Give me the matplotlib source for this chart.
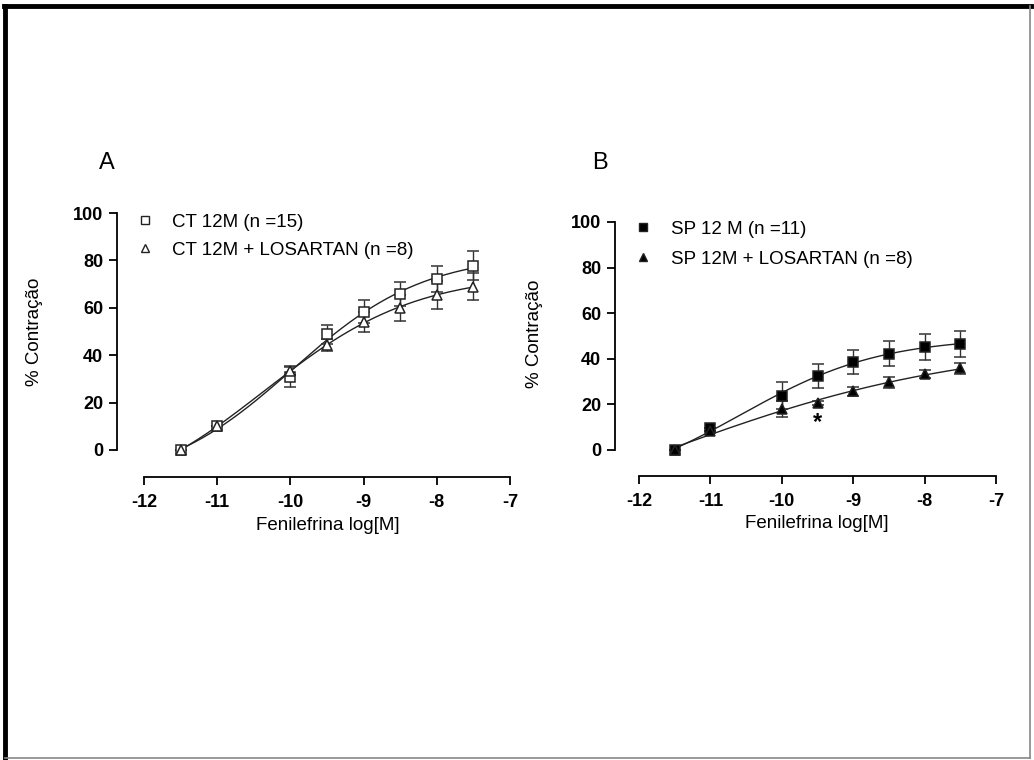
import matplotlib.pyplot as plt
from matplotlib.lines import Line2D
import numpy as np

plt.rcParams['font.family'] = ['Liberation Sans', 'DejaVu Sans']

# log[M] concentrations
x_conc = [-11.5, -11, -10, -9.5, -9, -8.5, -8, -7.5]

# Panel A
ct_mean = [0, 10, 30.7, 48.8, 58.4, 65.8, 72.0, 77.8]
ct_err = [0, 0, 4.3, 4.0, 5.0, 5.0, 5.5, 6.0]
ctl_mean = [0, 10, 33.5, 44.3, 54.0, 60.0, 65.4, 68.9]
ctl_err = [0, 0, 2.0, 2.5, 4.3, 5.5, 6.0, 5.7]

# Panel B
sp_mean = [0, 9.5, 23.8, 32.5, 38.7, 42.3, 45.0, 46.3]
sp_err = [0, 0, 5.9, 5.2, 5.2, 5.4, 5.7, 5.7]
spl_mean = [0, 8.5, 17.8, 20.5, 25.7, 29.7, 33.2, 35.8]
spl_err = [0, 0, 3.5, 0.8, 2.0, 2.5, 1.8, 2.5]

labels_a = ['CT 12M (n =15)', 'CT 12M + LOSARTAN (n =8)']
labels_b = ['SP 12 M (n =11)', 'SP 12M + LOSARTAN (n =8)']
xticks = [-12, -11, -10, -9, -8, -7]
yticks = [0, 20, 40, 60, 80, 100]


def fit_curve(x, y):
    # 4-parameter logistic, grid search on EC50 / slope, linear LSQ for bottom/top
    x = np.asarray(x, float)
    y = np.asarray(y, float)
    best = None
    for ec in np.linspace(-12, -6, 241):
        for h in np.linspace(0.2, 2.5, 116):
            f = 1.0 / (1.0 + 10 ** ((ec - x) * h))
            A = np.column_stack([1 - f, f])
            coef, *_ = np.linalg.lstsq(A, y, rcond=None)
            res = np.sum((A @ coef - y) ** 2)
            if best is None or res < best[0]:
                best = (res, ec, h, coef)
    _, ec, h, (bot, top) = best
    xs = np.linspace(x.min(), x.max(), 200)
    f = 1.0 / (1.0 + 10 ** ((ec - xs) * h))
    return xs, bot + (top - bot) * f


def panel(ax, series, labels, out_l, out_b, leg_anchor, ylab_xy, xlab_xy, lspace):
    for (m, e, mk, fc, ms) in series:
        xs, ys = fit_curve(x_conc, m)
        ax.plot(xs, ys, color='#222222', lw=1.0, clip_on=False)
        ax.errorbar(x_conc, m, yerr=e, fmt=mk, ms=ms,
                    mfc=fc, mec='#222222', mew=1.1, ecolor='#333333',
                    elinewidth=1.0, capsize=4, capthick=1.0, clip_on=False,
                    zorder=3)
    for s in ['top', 'right']:
        ax.spines[s].set_visible(False)
    # spine positioning resets the ticks, so do it first
    ax.spines['left'].set_position(('outward', out_l))
    ax.spines['bottom'].set_position(('outward', out_b))
    ax.spines['left'].set_linewidth(1.3)
    ax.spines['bottom'].set_linewidth(1.3)
    ax.set_xlim(-12, -7)
    ax.set_ylim(0, 100)
    ax.set_xticks(xticks)
    ax.set_yticks(yticks)
    ax.set_xticklabels([str(t) for t in xticks], fontweight='bold', fontsize=13)
    ax.set_yticklabels([str(t) for t in yticks], fontweight='bold', fontsize=13)
    ax.tick_params(direction='out', length=6, width=1.3)
    ax.tick_params(axis='x', pad=6)
    ax.tick_params(axis='y', pad=4)
    ax.set_ylabel('% Contração', fontsize=13.5)
    ax.yaxis.set_label_coords(*ylab_xy)
    ax.set_xlabel('Fenilefrina log[M]', fontsize=13.5)
    ax.xaxis.set_label_coords(*xlab_xy)
    handles = [Line2D([], [], ls='none', marker=mk, ms=6, mfc=fc, mec='#222222', mew=1.0)
               for (_, _, mk, fc, _) in series]
    ax.legend(handles, labels, loc='upper left', bbox_to_anchor=leg_anchor,
              frameon=False, fontsize=13.5, handlelength=1.0, handletextpad=0.95,
              labelspacing=lspace, borderaxespad=0)


fig = plt.figure(figsize=(10.34, 7.6), dpi=100)

axA = fig.add_axes([144 / 1034, 310 / 760, 366 / 1034, 237 / 760])
axB = fig.add_axes([639 / 1034, 310 / 760, 357 / 1034, 228 / 760])

panel(axA, [(ct_mean, ct_err, 's', 'white', 6.5), (ctl_mean, ctl_err, '^', 'white', 6.5)],
      labels_a, 19.4, 19.4, (-0.043, 1.03), (-0.276, 0.50), (0.503, -0.283), 0.6)
panel(axB, [(sp_mean, sp_err, 's', 'black', 7.5), (spl_mean, spl_err, '^', 'black', 6.5)],
      labels_b, 17.3, 18.7, (-0.035, 1.04), (-0.269, 0.51), (0.499, -0.285), 0.7)

axB.text(-9.5, 12, '*', ha='center', va='center', fontsize=17, fontweight='bold')

fig.text(107 / 1034, 1 - 163 / 760, 'A', fontsize=17, ha='center', va='center')
fig.text(600 / 1034, 1 - 163 / 760, 'B', fontsize=17, ha='center', va='center')

# outer frame
fig.add_artist(Line2D([0.004, 0.997], [1 - 6 / 760, 1 - 6 / 760], color='black', lw=3.5,
                      transform=fig.transFigure))
fig.add_artist(Line2D([5 / 1034, 5 / 1034], [1 - 6 / 760, 0.003], color='black', lw=3.5,
                      transform=fig.transFigure))
fig.add_artist(Line2D([1030 / 1034, 1030 / 1034], [1 - 6 / 760, 2 / 760], color='#888888', lw=1.2,
                      transform=fig.transFigure))
fig.add_artist(Line2D([5 / 1034, 1030 / 1034], [2 / 760, 2 / 760], color='#888888', lw=1.2,
                      transform=fig.transFigure))

fig.savefig('out.png', dpi=100)
